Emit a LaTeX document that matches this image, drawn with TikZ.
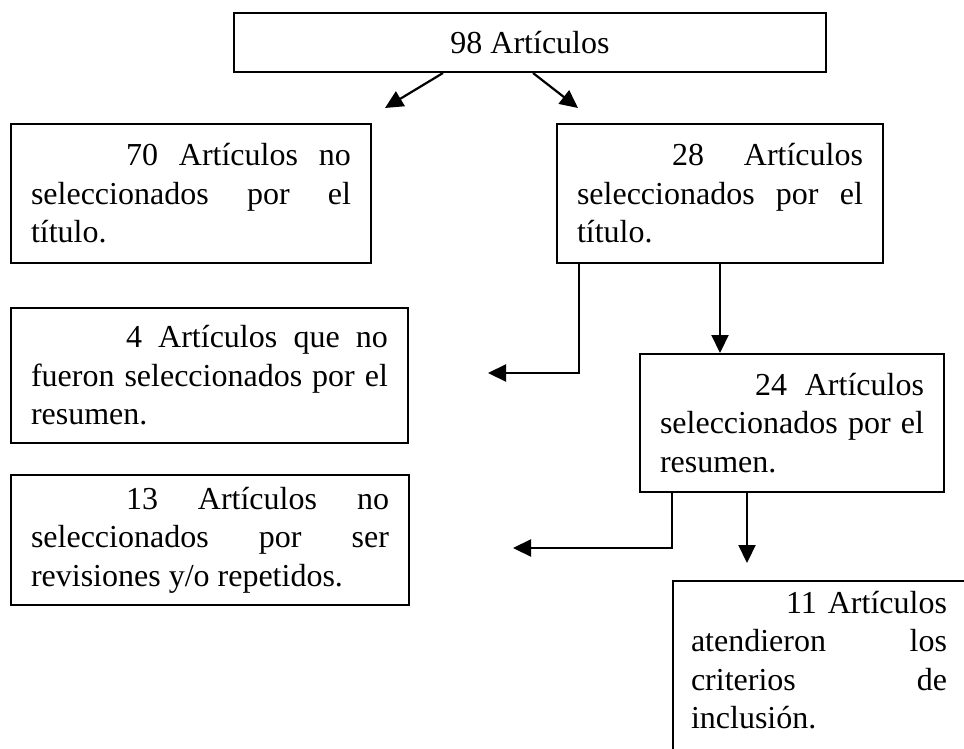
\documentclass[tikz,border=0pt]{standalone}
\usepackage{fontspec}
\setmainfont{Liberation Serif}
\usetikzlibrary{arrows.meta}

% one justified line of a box
\newcommand{\jl}[1]{\leavevmode\hbox to \hsize{\spaceskip=0pt\xspaceskip=0pt #1}}
\newcommand{\ind}{\hskip 95pt}

\tikzset{
  caja/.style={draw, line width=2pt, inner xsep=20pt, inner ysep=0pt, anchor=north west,
    align=justify, font=\fontsize{32}{38.5}\selectfont},
  flecha/.style={line width=2.2pt, -{Triangle[length=18pt,width=17pt]}}
}

\begin{document}
\begin{tikzpicture}[x=1pt,y=-1pt]
 \useasboundingbox (0,0) rectangle (964,749);
 \clip (0,0) rectangle (964,749);
 \node[caja, minimum width=592pt, minimum height=59pt, align=center] (top) at (233,12) {98 Artículos};
%
 \node[caja, text width=320pt, minimum height=139pt] (r70) at (10,123)
   {\jl{\ind 70 Artículos no}\\ \jl{seleccionados por el}\\ título.};
 \node[caja, text width=286pt, minimum height=139pt] (r28) at (556,123)
   {\jl{\ind 28 Artículos}\\ \jl{seleccionados por el}\\ título.};
%
 \node[caja, text width=357pt, minimum height=135pt] (r4) at (10,307)
   {\jl{\ind 4 Artículos que no}\\ \jl{fueron seleccionados por el}\\ resumen.};
 \node[caja, text width=264pt, minimum height=138pt] (r24) at (639,353)
   {\jl{\ind 24 Artículos}\\ \jl{seleccionados por el}\\ resumen.};
%
 \node[caja, text width=358pt, minimum height=130pt] (r13) at (10,474)
   {\jl{\ind 13 Artículos no}\\ \jl{seleccionados por ser}\\ revisiones y/o repetidos.};
 \node[caja, draw=none, inner xsep=17pt, inner ysep=9pt, text width=256pt] (r11) at (673,581)
   {\jl{\ind 11 Artículos}\\ \jl{atendieron los}\\ \jl{criterios de}\\ inclusión.};
 \draw[line width=2pt] ([yshift=-220pt]r11.north west) -- (r11.north west) -- ++(320,0);
%
 \coordinate (p1) at (385,108);
 \coordinate (p2) at (578,108);
 \coordinate (p3) at (488,373);
 \coordinate (p5) at (513,548);
 \coordinate (p6) at (747,563);
 \draw[flecha] ([xshift=-87pt]top.south) -- (p1);
 \draw[flecha] ([xshift=3pt]top.south) -- (p2);
 \draw[flecha] ([xshift=23pt]r28.south west) |- (p3);
 \draw[flecha] (r28.south) -- (r28.south |- r24.north);
 \draw[flecha] ([xshift=33pt]r24.south west) |- (p5);
 \draw[flecha] ([xshift=108pt]r24.south west) -- (p6);
\end{tikzpicture}
\end{document}
